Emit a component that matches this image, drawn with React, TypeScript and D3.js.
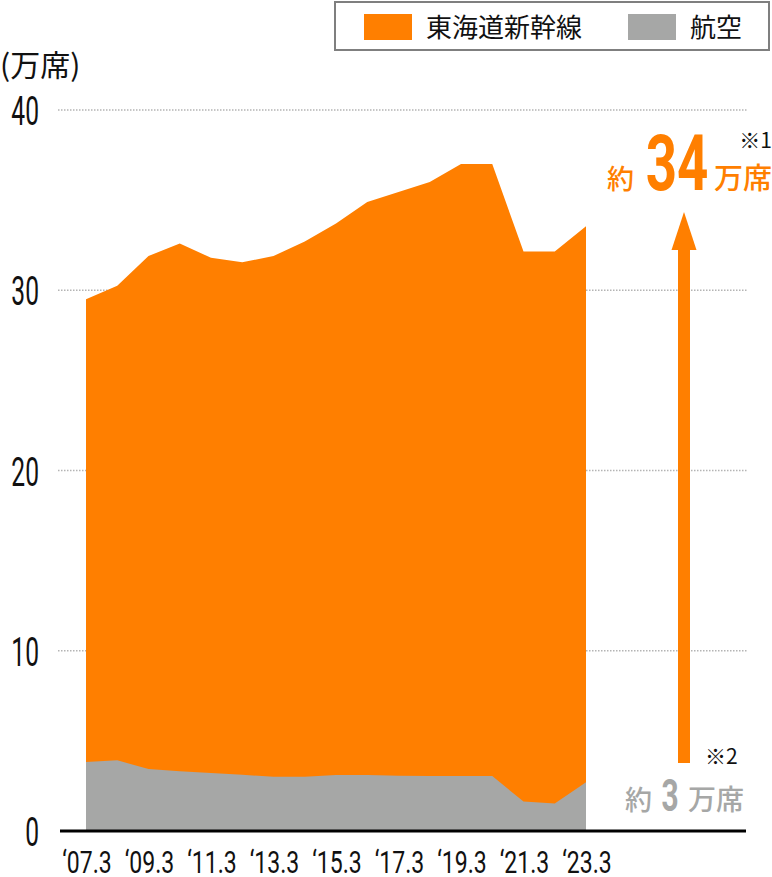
import React from "react";
import * as d3 from "d3";

// seats per day (万席)
const years = [2007, 2008, 2009, 2010, 2011, 2012, 2013, 2014, 2015, 2016, 2017, 2018, 2019, 2020, 2021, 2022, 2023];
const shinkansen = [29.5, 30.25, 31.9, 32.6, 31.8, 31.55, 31.9, 32.7, 33.7, 34.9, 35.45, 36.0, 37.0, 37.0, 32.15, 32.15, 33.55];
const air = [3.83, 3.92, 3.44, 3.32, 3.22, 3.12, 3.01, 3.01, 3.1, 3.1, 3.06, 3.05, 3.05, 3.05, 1.63, 1.52, 2.71];

const tickYears = [2007, 2009, 2011, 2013, 2015, 2017, 2019, 2021, 2023];
const tickLabels = ["‘07.3", "‘09.3", "‘11.3", "‘13.3", "‘15.3", "‘17.3", "‘19.3", "‘21.3", "‘23.3"];
const yTicks = [0, 10, 20, 30, 40];

const legendLabels = ["東海道新幹線", "航空"];

const ORANGE = "#ff7f00";
const GRAY = "#a6a7a6";
const CJK = "'Noto Sans CJK JP', 'Noto Sans', sans-serif";
const NUM = "Roboto, 'DejaVu Sans', sans-serif";

const W = 772;
const H = 877;

// condensed numerals: no narrow font installed, so squeeze Roboto horizontally
type NumTextProps = {
  x: number;
  y: number;
  size: number;
  sx?: number;
  anchor?: "start" | "middle" | "end";
  weight?: string | number;
  fill?: string;
  children: React.ReactNode;
};

const NumText = ({ x, y, size, sx = 0.62, anchor = "start", weight = 400, fill = "#111", children }: NumTextProps) => (
  <text
    transform={`translate(${x},${y}) scale(${sx},1)`}
    textAnchor={anchor}
    fontFamily={NUM}
    fontSize={size}
    fontWeight={weight}
    fill={fill}
  >
    {children}
  </text>
);

const App = () => {
  const x = d3.scalePoint<number>().domain(years).range([86, 586]);
  const y = d3.scaleLinear().domain([0, 40]).range([831, 110]);

  const area = d3
    .area<number>()
    .x((_, i) => x(years[i]) as number)
    .y0(y(0))
    .y1((d) => y(d));

  const legendColors = [ORANGE, GRAY];
  const legendX = [364, 628];

  return (
    <svg width={W} height={H} style={{ position: "absolute", left: 0, top: 0, background: "#fff" }}>
      {/* legend */}
      <rect x={335} y={2} width={434} height={48} fill="#fff" stroke="#7f7f7f" strokeWidth={2} />
      {legendLabels.map((label, i) => (
        <g key={label}>
          <rect x={legendX[i]} y={14} width={48} height={26} fill={legendColors[i]} />
          <text x={legendX[i] + 62} y={37} fontFamily={CJK} fontSize={26} fill="#111">
            {label}
          </text>
        </g>
      ))}

      {/* unit */}
      <text x={0} y={76} fontFamily={CJK} fontSize={30} fill="#111">
        (万席)
      </text>

      {/* grid + y labels */}
      {yTicks.map((t) => (
        <g key={t}>
          {t > 0 && (
            <line
              x1={58}
              x2={747}
              y1={y(t)}
              y2={y(t)}
              stroke="#b4b4b4"
              strokeWidth={1.5}
              strokeDasharray="1.5 1.5"
            />
          )}
          <NumText x={39} y={y(t) + 15} size={41} sx={0.6} anchor="end">
            {t}
          </NumText>
        </g>
      ))}

      {/* areas */}
      <path d={area(shinkansen) || ""} fill={ORANGE} />
      <path d={area(air) || ""} fill={GRAY} />

      {/* x axis */}
      <line x1={60} x2={746} y1={y(0)} y2={y(0)} stroke="#000" strokeWidth={3} />
      {tickYears.map((yr, i) => (
        <NumText key={yr} x={(x(yr) as number) + 1} y={873} size={32} sx={0.72} anchor="middle">
          {tickLabels[i]}
        </NumText>
      ))}

      {/* arrow annotation */}
      <rect x={678} y={248} width={12} height={515} fill={ORANGE} />
      <path d="M684,212 L696.5,250 L671.5,250 Z" fill={ORANGE} />

      <text x={772} y={148} textAnchor="end" fontFamily={CJK} fontSize={21} fill="#111">
        ※1
      </text>
      <text x={607} y={189} fontFamily={CJK} fontSize={27} fill={ORANGE} fontWeight={500}>
        約
      </text>
      <NumText x={677} y={190} size={78} sx={0.7} anchor="middle" weight="bold" fill={ORANGE}>
        34
      </NumText>
      <text x={714} y={189} fontFamily={CJK} fontSize={29} fill={ORANGE} fontWeight={500}>
        万席
      </text>

      <text x={705} y={764} fontFamily={CJK} fontSize={21} fill="#111">
        ※2
      </text>
      <text x={625} y={810} fontFamily={CJK} fontSize={27} fill={GRAY} fontWeight={500}>
        約
      </text>
      <NumText x={670} y={811} size={44} sx={0.68} anchor="middle" weight="bold" fill={GRAY}>
        3
      </NumText>
      <text x={688} y={810} fontFamily={CJK} fontSize={28} fill={GRAY} fontWeight={500}>
        万席
      </text>
    </svg>
  );
};

export default App;
